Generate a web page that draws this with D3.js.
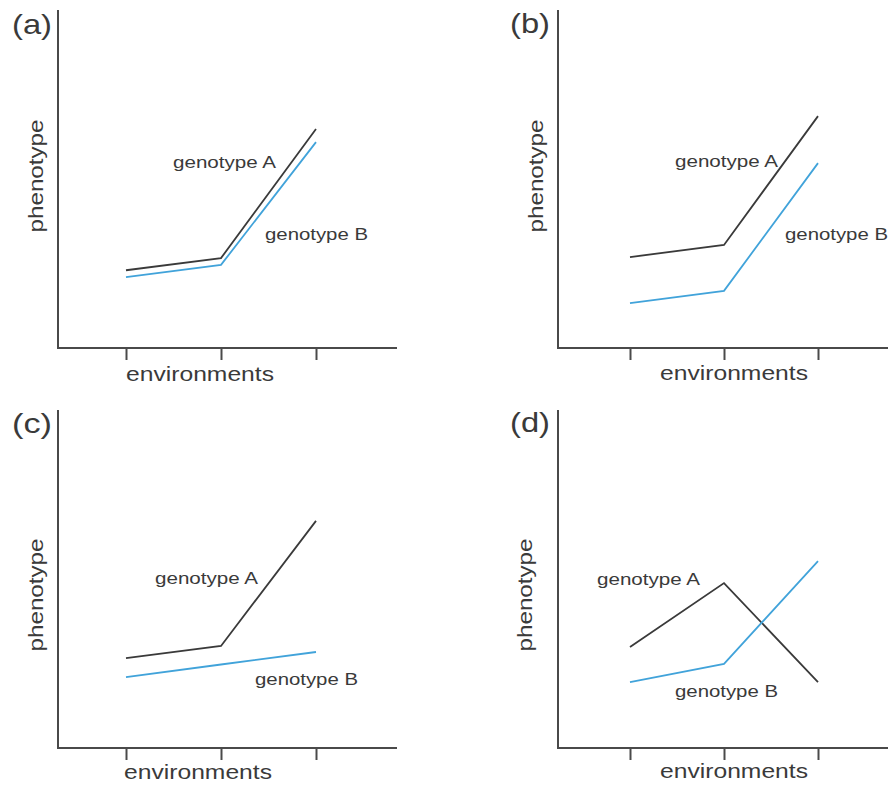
<!DOCTYPE html>
<html>
<head>
<meta charset="utf-8">
<script src="https://cdn.jsdelivr.net/npm/d3@7"></script>
<style>
  html, body { margin: 0; padding: 0; background: #ffffff; }
  svg { display: block; }
  text { font-family: "Liberation Sans", Arial, Helvetica, sans-serif; fill: #3a3a3a; }
</style>
</head>
<body>
<svg id="chart" width="888" height="786"></svg>
<script>
// Reaction norms: phenotype of two genotypes across three environments
const environments = ["environment 1", "environment 2", "environment 3"];
const panelNames = ["(a)", "(b)", "(c)", "(d)"];
const seriesNames = ["genotype A", "genotype B"];

// phenotype values (0–100 scale), one row per panel, one value per environment
const genotypeA = [
  [23.0, 26.6, 64.8],
  [26.9, 30.5, 68.6],
  [26.6, 30.2, 67.2],
  [29.9, 48.8, 19.5]
];
const genotypeB = [
  [21.0, 24.6, 60.9],
  [13.3, 16.9, 54.7],
  [21.0, 24.7, 28.4],
  [19.5, 24.9, 55.3]
];

// panel frames: axis corner and extents
const frames = [
  { x0: 58,  top: 10,  bottom: 348, tick0: 68, tick1: 258, ylab: 43,  ylabY: 176, envX: 126, envY: 381, tagX: 12,  tagY: 34 },
  { x0: 558, top: 10,  bottom: 348, tick0: 72, tick1: 260, ylab: 543, ylabY: 176, envX: 660, envY: 380, tagX: 510, tagY: 33 },
  { x0: 58,  top: 410, bottom: 748, tick0: 68, tick1: 258, ylab: 43,  ylabY: 595, envX: 124, envY: 779, tagX: 12,  tagY: 433 },
  { x0: 558, top: 410, bottom: 748, tick0: 72, tick1: 260, ylab: 532, ylabY: 595, envX: 660, envY: 778, tagX: 510, tagY: 432 }
];

// where each series name sits in each panel (left x, baseline y)
const seriesLabelPos = [
  [[173, 168], [265, 240]],
  [[675, 167], [785, 240]],
  [[155, 584], [255, 685]],
  [[597, 585], [675, 697]]
];

const seriesColors = ["#3a3a3a", "#41a3da"];
const axisLength = 339;

const svg = d3.select("#chart");

frames.forEach((f, i) => {
  const g = svg.append("g");

  const x = d3.scalePoint()
    .domain(environments)
    .range([f.x0 + f.tick0, f.x0 + f.tick1]);

  const y = d3.scaleLinear()
    .domain([0, 100])
    .range([f.bottom, f.top]);

  // x axis: ticks without labels, long baseline drawn separately
  const xAxis = g.append("g")
    .attr("transform", `translate(0,${f.bottom})`)
    .call(d3.axisBottom(x).tickSize(12).tickFormat(() => ""));
  xAxis.select(".domain").remove();
  xAxis.selectAll(".tick line").attr("stroke", "#4a4a4a").attr("stroke-width", 2);

  g.append("line")
    .attr("x1", f.x0 - 1).attr("x2", f.x0 + axisLength)
    .attr("y1", f.bottom).attr("y2", f.bottom)
    .attr("stroke", "#4a4a4a").attr("stroke-width", 2);

  g.append("line")
    .attr("x1", f.x0).attr("x2", f.x0)
    .attr("y1", f.top).attr("y2", f.bottom)
    .attr("stroke", "#4a4a4a").attr("stroke-width", 2);

  // series lines
  const line = d3.line()
    .x((d, k) => x(environments[k]))
    .y(d => y(d));

  [genotypeA[i], genotypeB[i]].forEach((vals, s) => {
    g.append("path")
      .datum(vals)
      .attr("d", line)
      .attr("fill", "none")
      .attr("stroke", seriesColors[s])
      .attr("stroke-width", 1.8)
      .attr("stroke-linejoin", "miter");
  });

  // series names
  seriesNames.forEach((name, s) => {
    const [lx, ly] = seriesLabelPos[i][s];
    g.append("text")
      .attr("x", lx).attr("y", ly)
      .attr("font-size", 16)
      .attr("textLength", 103)
      .attr("lengthAdjust", "spacingAndGlyphs")
      .text(name);
  });

  // axis titles
  g.append("text")
    .attr("x", f.envX).attr("y", f.envY)
    .attr("font-size", 21)
    .attr("textLength", 148)
    .attr("lengthAdjust", "spacingAndGlyphs")
    .text("environments");

  g.append("text")
    .attr("transform", `translate(${f.ylab},${f.ylabY}) rotate(-90)`)
    .attr("text-anchor", "middle")
    .attr("font-size", 21)
    .attr("textLength", 113)
    .attr("lengthAdjust", "spacingAndGlyphs")
    .text("phenotype");

  // panel tag
  g.append("text")
    .attr("x", f.tagX).attr("y", f.tagY)
    .attr("font-size", 28)
    .attr("textLength", 40)
    .attr("lengthAdjust", "spacingAndGlyphs")
    .text(panelNames[i]);
});
</script>
</body>
</html>
